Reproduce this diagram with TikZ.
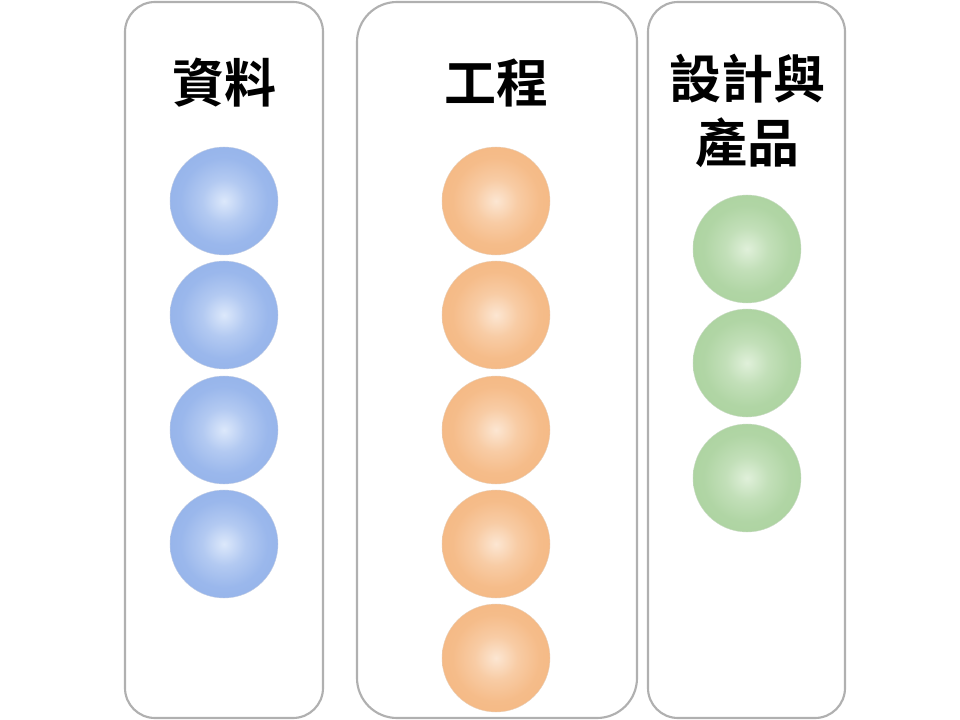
\documentclass[tikz,border=0pt]{standalone}
\usepackage{fontspec}
\newfontfamily\cjk{Noto Sans CJK TC}[BoldFont={Noto Sans CJK TC Bold}]
\definecolor{boxgray}{HTML}{B0B0B0}
\definecolor{bluein}{HTML}{DCE8FB}
\definecolor{blueout}{HTML}{97B5EB}
\definecolor{orangein}{HTML}{FCE6D2}
\definecolor{orangeout}{HTML}{F5BA86}
\definecolor{greenin}{HTML}{E0F0DA}
\definecolor{greenout}{HTML}{AED4A2}
\pgfdeclareradialshading{bluesph}{\pgfpoint{0bp}{0bp}}{color(0bp)=(bluein); color(10bp)=(blueout!60!bluein); color(20bp)=(blueout!95!bluein); color(25bp)=(blueout); color(50bp)=(blueout)}
\pgfdeclareradialshading{orangesph}{\pgfpoint{0bp}{0bp}}{color(0bp)=(orangein); color(10bp)=(orangeout!60!orangein); color(20bp)=(orangeout!95!orangein); color(25bp)=(orangeout); color(50bp)=(orangeout)}
\pgfdeclareradialshading{greensph}{\pgfpoint{0bp}{0bp}}{color(0bp)=(greenin); color(10bp)=(greenout!60!greenin); color(20bp)=(greenout!95!greenin); color(25bp)=(greenout); color(50bp)=(greenout)}
\tikzset{
  colbox/.style={draw=boxgray, line width=1.6pt},
  label/.style={font=\cjk\bfseries\fontsize{39pt}{48pt}\selectfont, align=center, inner sep=0pt},
  ball/.style={circle, minimum size=81pt, inner sep=0pt},
  blueball/.style={ball, shading=bluesph, draw=blueout!85!black!50, line width=0.3pt},
  orangeball/.style={ball, shading=orangesph, draw=orangeout!85!black!50, line width=0.3pt},
  greenball/.style={ball, shading=greensph, draw=greenout!85!black!50, line width=0.3pt},
}
\begin{document}
\begin{tikzpicture}[x=0.75pt,y=-0.75pt]
\useasboundingbox[fill=white] (0,0) rectangle (960,720);
% columns
\draw[colbox, rounded corners=22.5pt] (125,2) rectangle (323,718);
\draw[colbox, rounded corners=30pt] (357,2) rectangle (637,718);
\draw[colbox, rounded corners=22.5pt] (648,2) rectangle (845,718);
% titles
\node[label] (t1) at (224,83) {資料};
\node[label] (t2) at (496,83) {工程};
\node[label] (t3) at (747,111) {設計與\\產品};
% balls
\foreach \y [count=\i] in {201,315,430,544}
  \node[blueball] (b\i) at (224,\y) {};
\foreach \y [count=\i] in {201,315,430,544,658}
  \node[orangeball] (o\i) at (496,\y) {};
\foreach \y [count=\i] in {249,363,478}
  \node[greenball] (g\i) at (747,\y) {};
\end{tikzpicture}
\end{document}
